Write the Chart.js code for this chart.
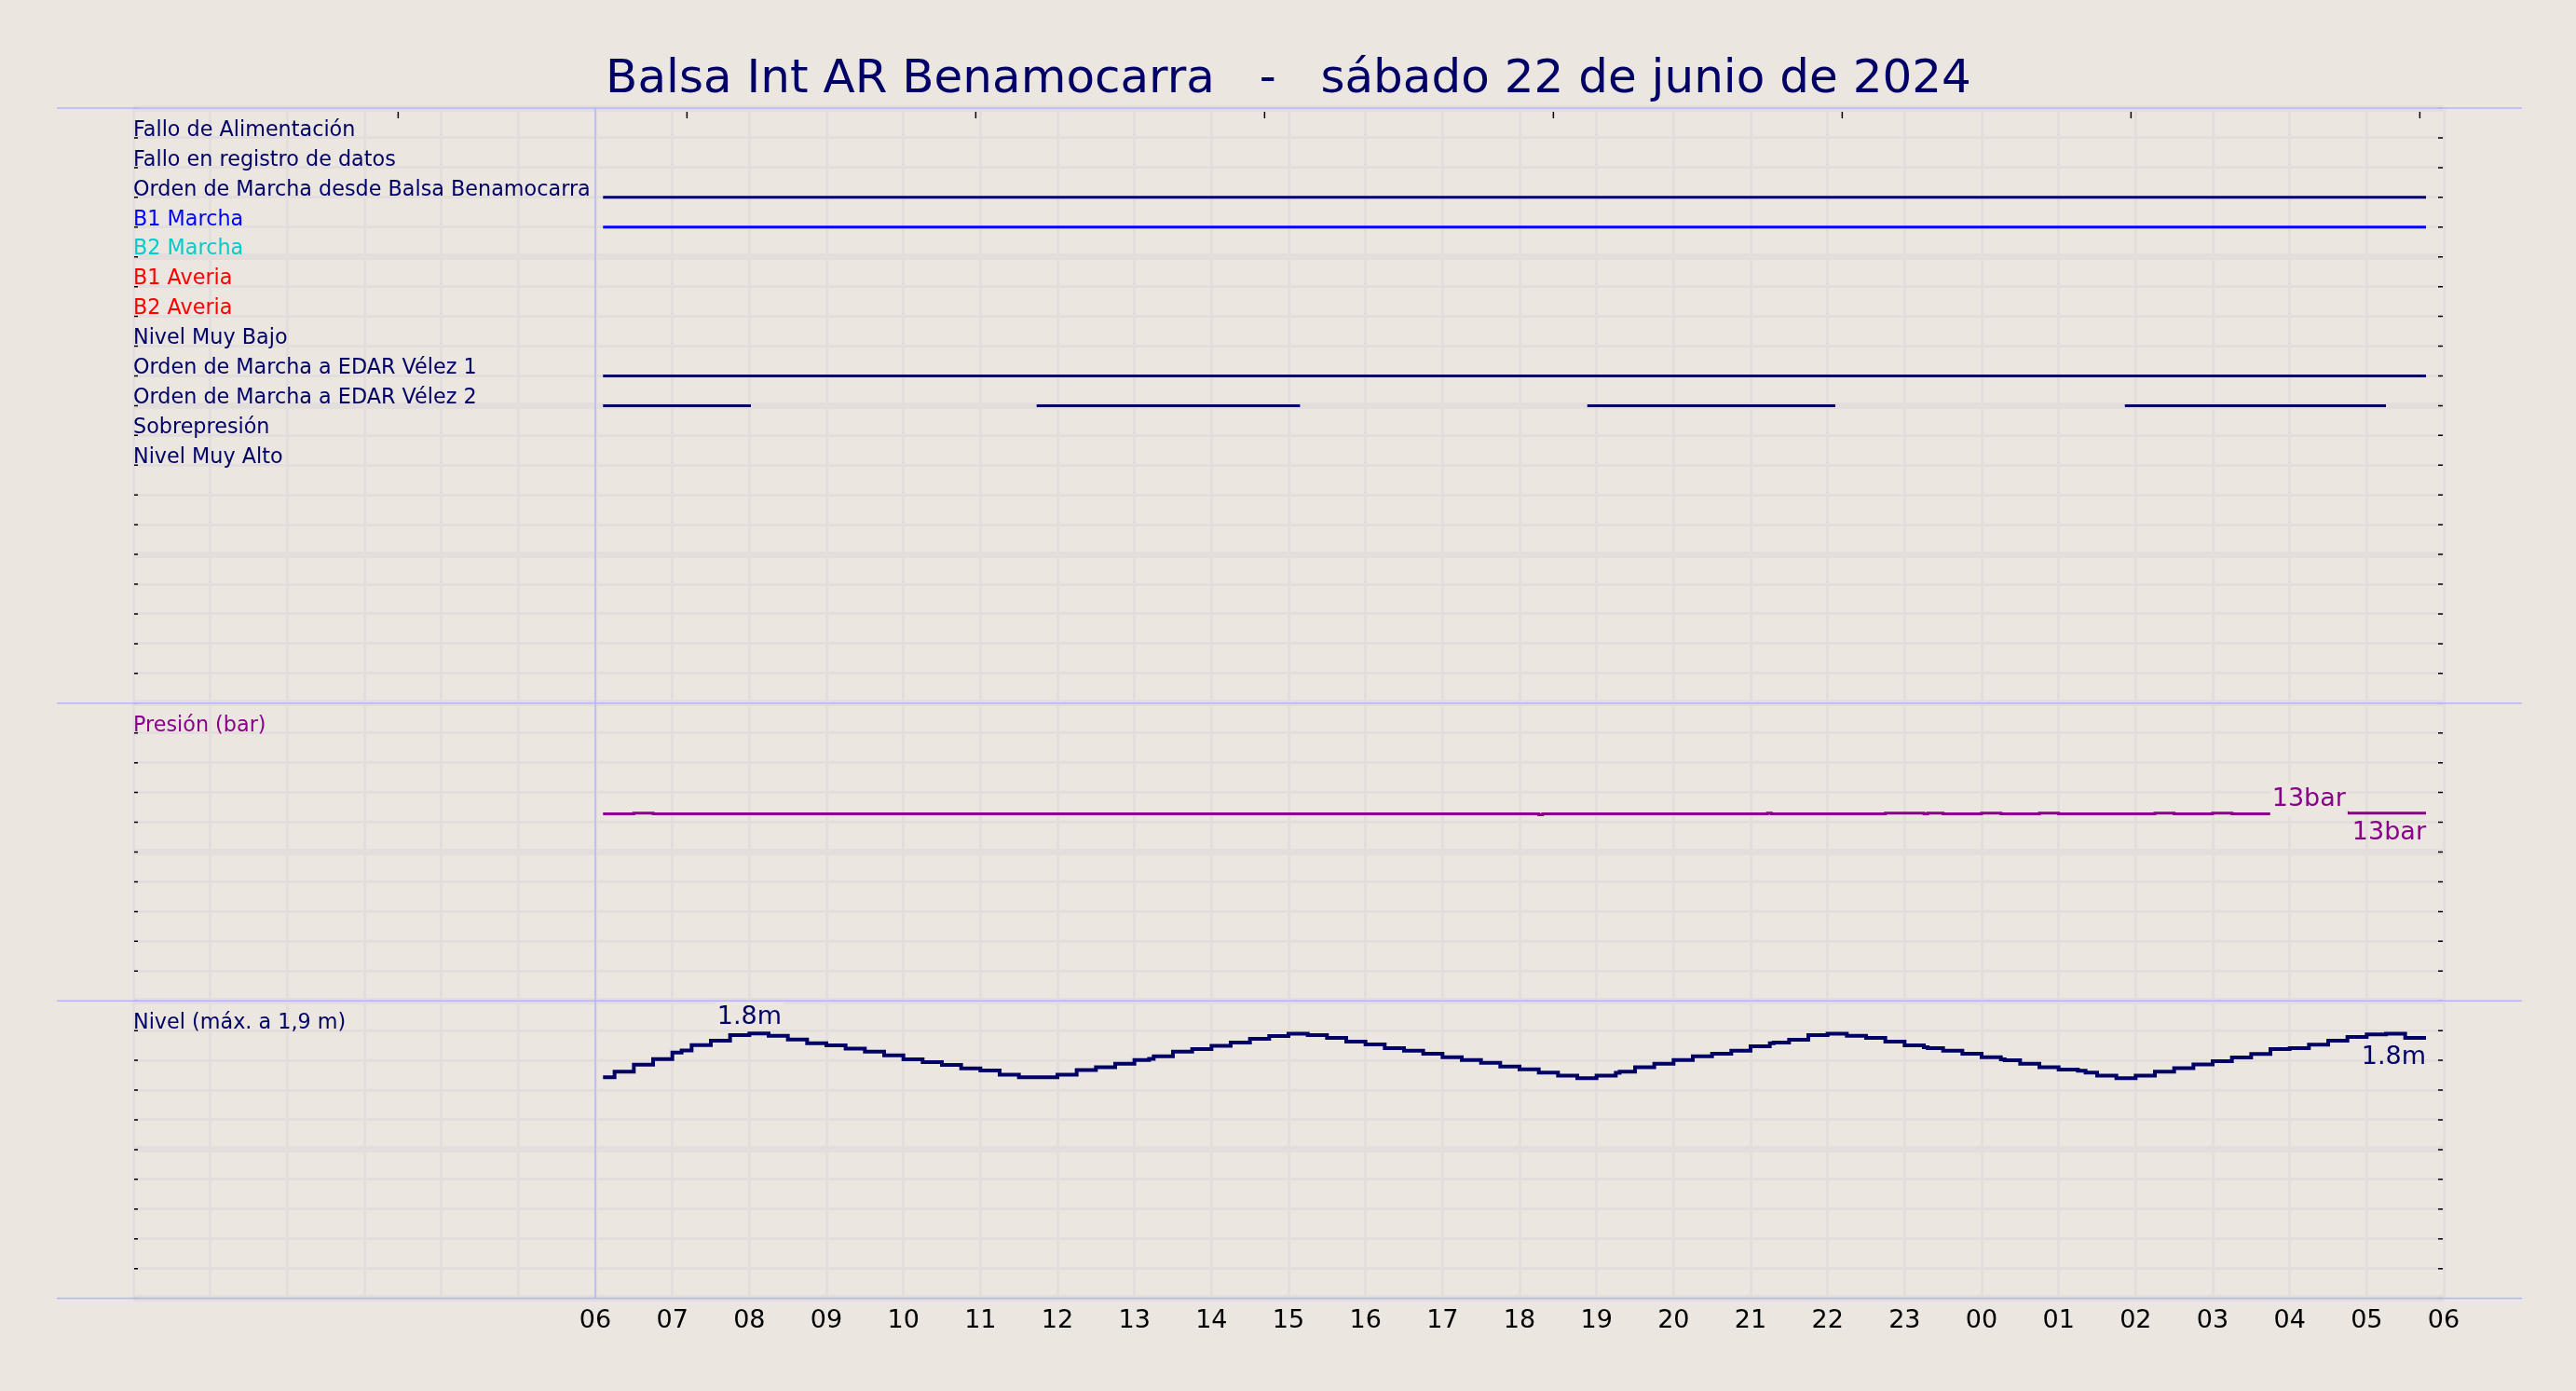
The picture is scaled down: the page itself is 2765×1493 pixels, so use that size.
<!DOCTYPE html>
<html>
<head>
<meta charset="utf-8">
<script src="https://cdn.jsdelivr.net/npm/chart.js@4.4.1/dist/chart.umd.min.js"></script>
<style>
  html, body { margin: 0; padding: 0; background: #ebe6e0; }
  #wrap { width: 2765px; height: 1493px; }
</style>
</head>
<body>
<div id="wrap"><canvas id="chart"></canvas></div>
<script>
const TITLE = 'Balsa Int AR Benamocarra   -   sábado 22 de junio de 2024';

// top panel rows, from the top (row 19) down
const signalNames = ['Fallo de Alimentación', 'Fallo en registro de datos',
  'Orden de Marcha desde Balsa Benamocarra', 'B1 Marcha', 'B2 Marcha', 'B1 Averia',
  'B2 Averia', 'Nivel Muy Bajo', 'Orden de Marcha a EDAR Vélez 1',
  'Orden de Marcha a EDAR Vélez 2', 'Sobrepresión', 'Nivel Muy Alto'];
const signalRows = [19, 18, 17, 16, 15, 14, 13, 12, 11, 10, 9, 8];

// "on" intervals, hours counted from 00:00 of the day
const ordenBalsaOn = [[6.1, 29.77]];
const b1MarchaOn = [[6.1, 29.77]];
const edar1On = [[6.1, 29.77]];
const edar2On = [[6.1, 8.02], [11.73, 15.15], [18.88, 22.1], [25.86, 29.25]];

// pressure (bar), stepped
const pressureHours = [6.1, 6.5, 6.75, 18.25, 18.3, 21.22, 21.27, 22.75, 23.25, 23.3, 23.5,
  24.0, 24.25, 24.75, 25.0, 26.25, 26.5, 27.0, 27.25, 28.25, 28.75, 29.77];
const pressureBar = [12.56, 12.62, 12.56, 12.5, 12.56, 12.62, 12.56, 12.62, 12.56, 12.62, 12.56,
  12.62, 12.56, 12.62, 12.56, 12.62, 12.56, 12.62, 12.56, 12.65, 12.62, 12.62];

// level (m), stepped every quarter hour
const levelHours = [6.1, 6.25, 6.5, 6.75, 7.0, 7.12, 7.25, 7.5, 7.75, 8.0, 8.25, 8.5, 8.75,
  9.0, 9.25, 9.5, 9.75, 10.0, 10.25, 10.5, 10.75, 11.0, 11.25, 11.5, 11.75, 12.0, 12.25,
  12.5, 12.75, 13.0, 13.19, 13.25, 13.5, 13.75, 14.0, 14.25, 14.5, 14.75, 15.0, 15.25,
  15.5, 15.75, 16.0, 16.25, 16.5, 16.75, 17.0, 17.25, 17.5, 17.75, 18.0, 18.25, 18.5,
  18.75, 19.0, 19.25, 19.3, 19.5, 19.75, 20.0, 20.25, 20.5, 20.75, 21.0, 21.25, 21.3,
  21.5, 21.75, 22.0, 22.25, 22.5, 22.75, 23.0, 23.25, 23.3, 23.5, 23.75, 24.0, 24.25,
  24.3, 24.5, 24.75, 25.0, 25.25, 25.35, 25.5, 25.75, 26.0, 26.25, 26.5, 26.75, 27.0,
  27.25, 27.5, 27.75, 28.0, 28.25, 28.5, 28.75, 29.0, 29.25, 29.5, 29.77];
const levelM = [1.487, 1.524, 1.571, 1.608, 1.652, 1.666, 1.703, 1.732, 1.770, 1.780, 1.765, 1.740, 1.715,
  1.701, 1.678, 1.658, 1.633, 1.606, 1.588, 1.569, 1.546, 1.532, 1.503, 1.487, 1.487, 1.503, 1.534,
  1.553, 1.577, 1.602, 1.610, 1.627, 1.658, 1.676, 1.697, 1.720, 1.744, 1.763, 1.779, 1.769,
  1.751, 1.726, 1.707, 1.682, 1.664, 1.645, 1.621, 1.602, 1.583, 1.559, 1.540, 1.518, 1.497,
  1.480, 1.497, 1.516, 1.524, 1.553, 1.577, 1.602, 1.627, 1.645, 1.664, 1.695, 1.714, 1.720,
  1.738, 1.769, 1.779, 1.765, 1.751, 1.726, 1.701, 1.688, 1.682, 1.664, 1.645, 1.621, 1.606,
  1.600, 1.577, 1.553, 1.538, 1.530, 1.518, 1.497, 1.480, 1.497, 1.524, 1.548, 1.573, 1.594,
  1.619, 1.643, 1.676, 1.682, 1.705, 1.732, 1.757, 1.775, 1.779, 1.751, 1.751];

// x axis: hours 0..30, labelled from 06 on
const hourLabels = ['06', '07', '08', '09', '10', '11', '12', '13', '14', '15', '16', '17', '18',
  '19', '20', '21', '22', '23', '00', '01', '02', '03', '04', '05', '06'];
const FIRST_LABEL_HOUR = 6;
const DAY_START_HOUR = 6;
const TOP_TICK_START = 3.44, TOP_TICK_STEP = 3.75;

const FONT = '"DejaVu Sans", sans-serif';
const BG = '#ebe6e0';
const GRID = '#e3dedb';
const NAVY = '#000066';
const BLUE = '#0000ff';
const CYAN = '#00cccc';
const RED = '#ff0000';
const PURPLE = '#8b008b';
const LAVENDER = '#b3b3ff';

const rowColors = { 'B1 Marcha': BLUE, 'B2 Marcha': CYAN, 'B1 Averia': RED, 'B2 Averia': RED };
const nameForRow = v => signalNames[signalRows.indexOf(v)];

function intervalsToPoints(intervals, row) {
  const pts = [];
  intervals.forEach(([a, b], i) => {
    if (i) pts.push({ x: a, y: null });
    pts.push({ x: a, y: row }, { x: b, y: row });
  });
  return pts;
}
const rowOf = name => signalRows[signalNames.indexOf(name)];
const zip = (xs, ys) => xs.map((x, i) => ({ x, y: ys[i] }));

const datasets = [
  { data: intervalsToPoints(ordenBalsaOn, rowOf('Orden de Marcha desde Balsa Benamocarra')), borderColor: NAVY, borderWidth: 3, yAxisID: 'yTop' },
  { data: intervalsToPoints(b1MarchaOn, rowOf('B1 Marcha')), borderColor: BLUE, borderWidth: 3, yAxisID: 'yTop' },
  { data: intervalsToPoints(edar1On, rowOf('Orden de Marcha a EDAR Vélez 1')), borderColor: NAVY, borderWidth: 3, yAxisID: 'yTop' },
  { data: intervalsToPoints(edar2On, rowOf('Orden de Marcha a EDAR Vélez 2')), borderColor: NAVY, borderWidth: 3, yAxisID: 'yTop' },
  { data: zip(pressureHours, pressureBar), borderColor: PURPLE, borderWidth: 3, stepped: 'before', yAxisID: 'yP',
    valueLabel: { digits: 0, unit: 'bar', lift: 7, below: 11 } },
  { data: zip(levelHours, levelM), borderColor: NAVY, borderWidth: 4, stepped: 'before', yAxisID: 'yL',
    valueLabel: { digits: 1, unit: 'm', lift: 10, below: 6 } }
];

const majorWidth = step => c => (Math.round(c.tick.value / step) % 5 === 0 ? 7 : 3);

function panelAxis(min, max, step, weight, stackWeight, labelFor, colorFor) {
  return {
    type: 'linear', position: 'left', stack: 'panels', stackWeight, weight,
    min, max,
    ticks: {
      stepSize: step, autoSkip: false, mirror: true, padding: 0, labelOffset: -8,
      font: { family: FONT, size: 22.3 }, color: colorFor,
      callback: labelFor
    },
    grid: { color: GRID, lineWidth: majorWidth(step), drawTicks: false },
    border: { display: false }
  };
}

const decor = {
  id: 'decor',
  beforeDatasetsDraw(chart) {
    const { ctx, chartArea: a, scales } = chart;
    ctx.save();
    ctx.lineWidth = 1.5;
    ['yTop', 'yP', 'yL'].forEach(id => {
      const s = scales[id];
      s.ticks.forEach(t => {
        const y = s.getPixelForValue(t.value);
        const edge = Math.abs(t.value - s.min) < 1e-9 || Math.abs(t.value - s.max) < 1e-9;
        ctx.strokeStyle = edge ? '#b9b5b5' : '#000';
        ctx.beginPath();
        ctx.moveTo(a.left + 1, y); ctx.lineTo(a.left + 5, y);
        ctx.moveTo(a.right - 6, y); ctx.lineTo(a.right - 1, y);
        ctx.stroke();
      });
    });
    ctx.strokeStyle = '#000';
    for (let h = TOP_TICK_START; h <= scales.x.max; h += TOP_TICK_STEP) {
      const x = scales.x.getPixelForValue(h);
      ctx.beginPath(); ctx.moveTo(x, a.top + 4); ctx.lineTo(x, a.top + 11); ctx.stroke();
    }
    ctx.strokeStyle = LAVENDER;
    const x6 = scales.x.getPixelForValue(DAY_START_HOUR);
    ctx.beginPath(); ctx.moveTo(x6, a.top); ctx.lineTo(x6, a.bottom); ctx.stroke();
    [scales.yTop.top, scales.yP.top, scales.yL.top, scales.yL.bottom].forEach(y => {
      ctx.beginPath(); ctx.moveTo(a.left - 82, y); ctx.lineTo(a.right + 84, y); ctx.stroke();
    });
    ctx.restore();
  },
  afterDatasetsDraw(chart) {
    const { ctx } = chart;
    chart.data.datasets.forEach((ds, i) => {
      const vl = ds.valueLabel;
      if (!vl) return;
      const meta = chart.getDatasetMeta(i);
      const pts = ds.data;
      let iMax = 0;
      pts.forEach((p, j) => { if (p.y > pts[iMax].y) iMax = j; });
      const fmt = v => v.toFixed(vl.digits) + vl.unit;
      ctx.save();
      ctx.font = '27px ' + FONT;
      ctx.textBaseline = 'alphabetic';
      const pm = meta.data[iMax];
      const txt = fmt(pts[iMax].y);
      const w = ctx.measureText(txt).width;
      const base = pm.y - vl.lift;
      ctx.fillStyle = BG;
      ctx.fillRect(pm.x - w / 2 - 2, base - 24, w + 4, 24 + vl.below);
      ctx.fillStyle = ds.borderColor;
      ctx.textAlign = 'center';
      ctx.fillText(txt, pm.x, base);
      const last = pts.length - 1;
      const pl = meta.data[last];
      ctx.textAlign = 'right';
      ctx.fillText(fmt(pts[last].y), pl.x, pl.y + 28);
      ctx.restore();
    });
  }
};

new Chart(document.getElementById('chart'), {
  type: 'line',
  data: { datasets },
  options: {
    responsive: true,
    maintainAspectRatio: false,
    animation: false,
    layout: { padding: { left: 143, right: 142, top: 0, bottom: 51 } },
    elements: { point: { radius: 0 }, line: { tension: 0, borderCapStyle: 'butt', fill: false } },
    plugins: {
      legend: { display: false },
      tooltip: { enabled: false },
      title: {
        display: true, text: TITLE, color: NAVY,
        font: { family: FONT, size: 50, weight: 'normal' },
        padding: { top: 56, bottom: 0 }
      }
    },
    scales: {
      x: {
        type: 'linear', position: 'bottom', min: 0, max: 30,
        ticks: {
          stepSize: 1, autoSkip: false, maxRotation: 0, padding: 8, color: '#000',
          font: { family: FONT, size: 27 },
          callback: v => (v >= FIRST_LABEL_HOUR ? hourLabels[v - FIRST_LABEL_HOUR] : '')
        },
        grid: { color: GRID, lineWidth: 3, drawTicks: false },
        border: { display: false }
      },
      yL: panelAxis(0, 2, 0.2, 1, 1,
        v => (Math.abs(v - 1.8) < 1e-6 ? 'Nivel (máx. a 1,9 m)' : ''), NAVY),
      yP: panelAxis(0, 20, 2, 2, 1,
        v => (v === 18 ? 'Presión (bar)' : ''), PURPLE),
      yTop: panelAxis(0, 20, 1, 3, 2,
        v => nameForRow(v) || '', c => rowColors[nameForRow(c.tick.value)] || NAVY)
    }
  },
  plugins: [decor]
});
</script>
</body>
</html>
